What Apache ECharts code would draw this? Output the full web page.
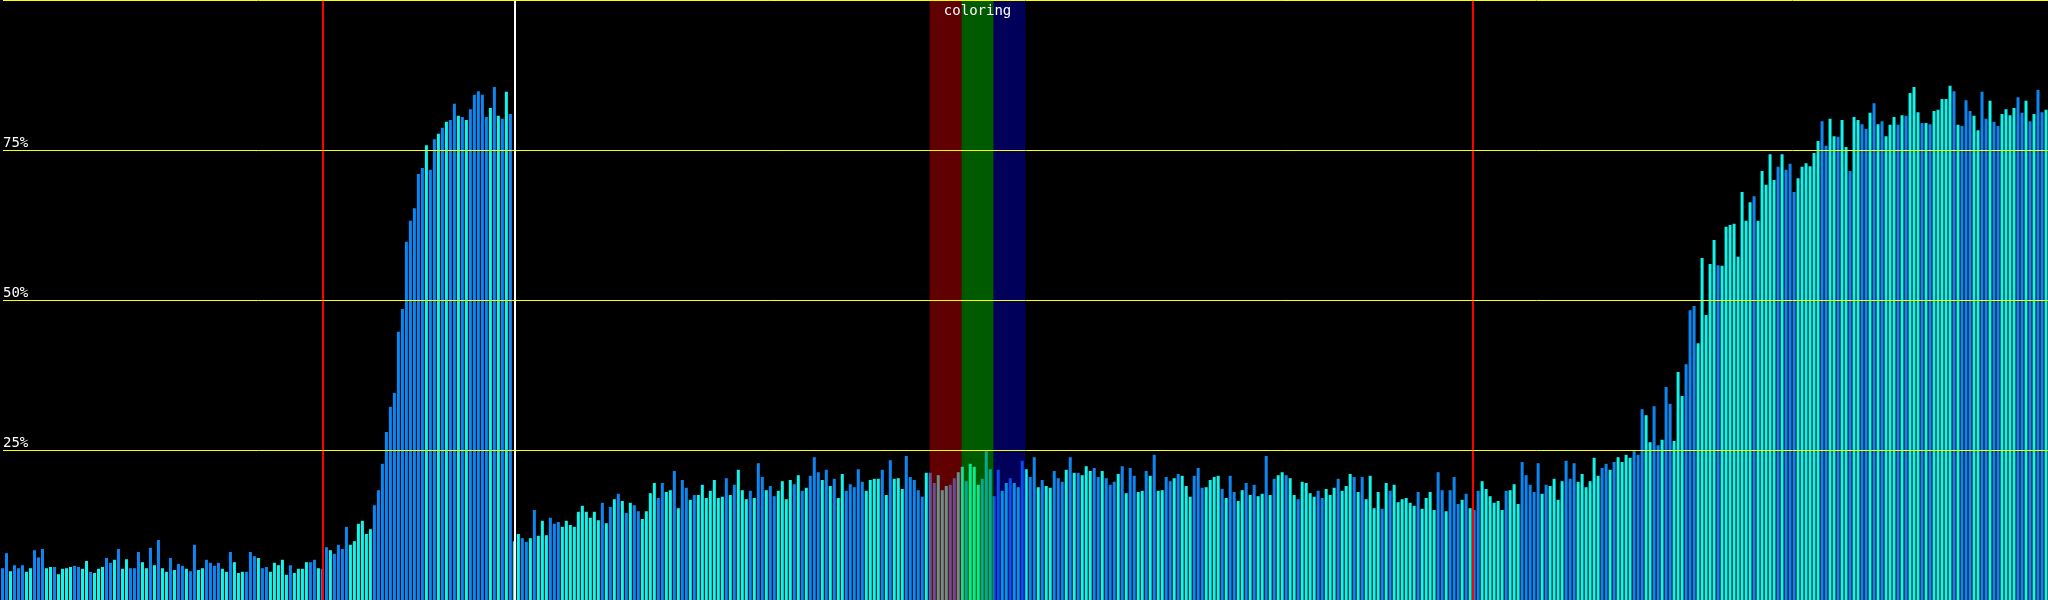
<!DOCTYPE html>
<html><head><meta charset="utf-8">
<script src="https://cdn.jsdelivr.net/npm/echarts@6/dist/echarts.min.js"></script>
<style>html,body{margin:0;padding:0;background:#000;}#c{width:2048px;height:600px;}</style>
</head><body><div id="c"></div>
<script>
// per-bar usage (%) in four chunks of 128 samples
const seg0 = [5.3,7.8,4.8,5.8,5.3,5.8,4.7,5.3,8.3,7.1,
8.5,5.3,5.5,5.5,4.3,5.2,5.3,5.5,5.7,5.5,
5.2,6.5,4.7,4.5,5.2,5.5,7.0,6.2,6.7,8.5,
5.2,6.8,5.3,5.3,8.0,6.3,5.3,8.7,5.8,10.0,
5.3,4.7,7.0,5.0,6.0,5.7,5.2,4.8,9.2,5.0,
5.3,6.7,6.2,5.7,6.2,5.2,4.7,8.0,6.3,4.5,
4.7,4.7,8.0,7.3,7.0,5.3,5.5,4.7,6.2,5.8,
6.7,4.2,5.8,4.5,5.2,5.2,6.3,6.3,6.7,5.3,
5.2,8.8,8.3,7.7,9.2,8.5,12.2,9.2,9.8,12.7,
13.2,11.0,11.8,15.8,18.3,22.7,28.0,32.2,34.5,44.7,
48.5,59.7,63.2,65.3,71.0,72.0,75.8,71.7,76.8,77.7,
78.7,79.7,80.0,82.7,80.7,80.5,80.0,81.8,84.2,84.8,
84.2,80.5,82.0,85.5,80.7,80.2,84.7,81.0];
const seg1 = [9.8,11.0,10.3,9.7,10.3,15.0,10.7,13.2,10.8,13.7,
12.7,13.0,12.2,13.2,12.5,12.2,14.7,15.7,14.7,13.7,
14.7,13.3,16.2,12.8,15.5,16.8,17.7,16.5,14.5,16.2,
15.8,14.8,13.5,14.8,17.8,19.5,17.0,19.5,18.0,18.3,
21.5,15.3,20.0,18.7,16.7,17.5,17.5,19.2,17.0,18.2,
20.0,17.0,17.2,20.3,17.5,19.2,21.7,18.3,16.8,18.2,
17.0,22.8,20.5,18.3,19.0,17.3,18.2,19.8,16.8,20.0,
19.3,20.8,18.2,18.7,20.7,23.8,21.3,20.0,21.7,19.0,
20.2,17.0,21.0,18.2,19.3,18.8,21.8,19.7,18.2,20.0,
20.2,20.2,21.7,17.5,23.3,20.2,20.3,18.5,24.0,20.5,
20.0,18.3,17.2,21.2,21.2,19.5,20.8,18.3,19.0,19.2,
20.3,21.3,22.2,19.8,22.7,22.2,19.2,20.2,24.8,21.8,
17.3,21.7,18.2,19.5,20.3,19.5,18.8,23.2];
const seg2 = [21.8,20.5,23.8,18.8,20.0,19.0,18.7,21.5,20.3,19.7,
21.7,23.8,21.2,21.2,20.8,22.3,21.5,22.0,20.5,21.5,
20.3,19.2,19.7,21.0,22.3,17.8,22.0,20.7,18.0,18.2,
21.5,20.7,24.2,18.2,18.3,20.5,19.8,20.3,21.0,20.7,
19.0,17.2,20.7,22.0,18.7,18.8,20.0,20.5,20.7,18.5,
17.0,20.7,18.0,16.5,18.3,19.5,17.5,19.2,17.3,17.7,
24.0,17.5,20.2,20.8,21.3,20.8,20.3,17.5,16.8,19.7,
19.5,17.8,17.2,18.2,17.0,18.5,17.5,18.7,20.2,18.2,
19.0,21.0,20.5,18.0,20.5,16.8,20.7,15.3,18.0,15.2,
19.5,18.2,19.2,16.3,16.8,17.0,16.2,15.7,18.0,15.2,
17.0,18.0,15.0,21.3,18.3,14.8,18.3,20.5,16.0,16.7,
17.7,15.3,15.0,18.2,19.8,18.5,17.3,16.2,16.5,15.0,
18.2,18.3,19.3,16.0,23.0,20.8,19.2,18.0];
const seg3 = [22.8,17.7,19.2,19.0,20.2,16.7,19.8,23.2,20.2,22.8,
19.7,21.0,18.8,19.8,23.7,20.7,22.0,22.7,21.7,23.0,
23.8,23.0,24.2,23.7,24.8,24.2,31.8,30.8,26.3,32.3,
25.8,26.7,35.5,32.7,26.5,38.0,34.0,39.3,48.3,49.0,
42.8,57.0,47.5,56.0,60.0,55.8,55.7,62.2,62.5,62.7,
57.2,68.0,63.2,66.3,67.3,63.2,71.5,69.2,74.3,70.0,
72.2,74.3,71.7,72.7,68.0,70.3,72.2,72.8,72.3,74.5,
76.5,79.8,75.7,80.2,77.3,77.2,80.0,75.5,71.5,80.5,
80.0,79.3,78.5,81.2,82.8,79.3,79.8,77.3,79.2,80.5,
79.2,80.8,80.7,84.5,85.5,81.3,79.5,79.5,79.3,81.5,
81.7,83.5,83.5,85.7,84.8,79.2,79.0,83.3,81.5,80.7,
78.3,84.7,80.2,83.2,79.7,79.0,81.0,81.8,80.8,82.0,
83.8,81.2,83.2,79.8,81.0,85.0,81.3,81.7];
// per-bar kind: b = blue, c = cyan
const kind0 = "bbcbbbccbb"+"bccbccccbb"+"ccbcccbbcb"+"ccbbbccbcb"+"ccbcbbcbbc"+"cbbbbccbcc"+"cbbbcbbccc"+"ccbccccbbc"+"bbcbbbbccc"+"cccbbbbbbb"+"bbbbbbcbbc"+"bcbbcbcbbb"+"bbcbcbcb";
const kind1 = "ccbbcbcccb"+"bbcccccccc"+"ccbcbcbcbc"+"bbccccbbcc"+"bcbbcbcccc"+"cccbcbcccb"+"cbbcbbcccc"+"bcbcbbbcbc"+"bccbbbbbcc"+"ccbcbcccbb"+"bbbcbbcccb"+"bccbcccbbb"+"bbccbccb";
const kind2 = "cbbcbccbbb"+"cbcbcccbbc"+"bbbcbcbbcc"+"bcbccbbcbc"+"ccbbbccccb"+"cbbccbcbcc"+"bcbccbccbc"+"cccbbcccbc"+"ccbcbccccb"+"cbccccccbc"+"cccbbcbbbc"+"bcbbcccccc"+"bcccbbbb";
const kind3 = "bcbccccbbb"+"ccccccbbcb"+"ccccbbbccb"+"bcbbcccbbb"+"cccccbcccc"+"ccccbccccc"+"bcbbbccccc"+"cbbccbccbc"+"cbbcbcbccc"+"bcbcccbcbc"+"ccccbcbbbc"+"cbbcbbcccc"+"bbcbcbbc";

const values = seg0.concat(seg1, seg2, seg3);
const kinds = (kind0 + kind1 + kind2 + kind3).split('');
const categories = values.map((_, i) => String(i));
const yTickLabels = {25: '25%', 50: '50%', 75: '75%'};
const markerPositions = [80, 128, 368];
const markerColors = ['#ff0000', '#ffffff', '#ff0000'];
const bandStarts = [232, 240, 248];
const bandEnds = [240, 248, 256];
const bandColors = ['rgba(240,0,0,0.4)', 'rgba(0,225,0,0.4)', 'rgba(0,0,225,0.4)'];
const bandLabel = 'coloring';

const kindColor = {b: '#0c86f0', c: '#10f4ec'};

const chart = echarts.init(document.getElementById('c'), null, {renderer: 'canvas'});
const areaData = bandStarts.map((s, i) => [
  {xAxis: s, itemStyle: {color: bandColors[i]}},
  {xAxis: bandEnds[i]}
]);
areaData.push([
  {name: bandLabel, xAxis: bandStarts[0], itemStyle: {color: 'rgba(0,0,0,0)'},
   label: {show: true, position: 'insideTop', distance: 4, formatter: '{b}', color: '#ffffff',
           fontFamily: 'DejaVu Sans Mono', fontSize: 14}},
  {xAxis: bandEnds[bandEnds.length - 1]}
]);
chart.setOption({
  backgroundColor: '#000000',
  animation: false,
  grid: [
    {left: 0.5, right: -0.5, top: 0, bottom: 0},
    {left: 0, right: 0, top: 0, bottom: 0}
  ],
  xAxis: [
    {type: 'category', gridIndex: 0, data: categories, show: false, boundaryGap: true},
    {type: 'value', gridIndex: 1, min: 0, max: values.length, show: false}
  ],
  yAxis: [
    {type: 'value', gridIndex: 0, min: 0, max: 100, show: false},
    {type: 'value', gridIndex: 1, min: 0, max: 100, interval: 25, z: 30,
     axisLine: {show: false}, axisTick: {show: false},
     axisLabel: {inside: true, margin: 0, color: '#ffffff', fontFamily: 'DejaVu Sans Mono', fontSize: 14,
                 verticalAlign: 'bottom', lineHeight: 13,
                 formatter: v => yTickLabels[v] || ''},
     splitLine: {show: true, lineStyle: {width: 1, color: ['rgba(0,0,0,0)', '#ffff00', '#ffff00', '#ffff00', '#ffff00']}}}
  ],
  series: [
    {type: 'bar', xAxisIndex: 0, yAxisIndex: 0, data: values, barWidth: 3, z: 2,
     itemStyle: {color: p => kindColor[kinds[p.dataIndex]]}},
    {type: 'line', xAxisIndex: 1, yAxisIndex: 1, data: [], z: 5, silent: true,
     markArea: {silent: true, z: 10, label: {show: false}, data: areaData},
     markLine: {silent: true, z: 20, symbol: ['none', 'none'], label: {show: false},
       data: markerPositions.map((x, i) => ({xAxis: x, lineStyle: {color: markerColors[i], width: 2, type: 'solid'}}))}}
  ]
});
</script>
</body></html>
